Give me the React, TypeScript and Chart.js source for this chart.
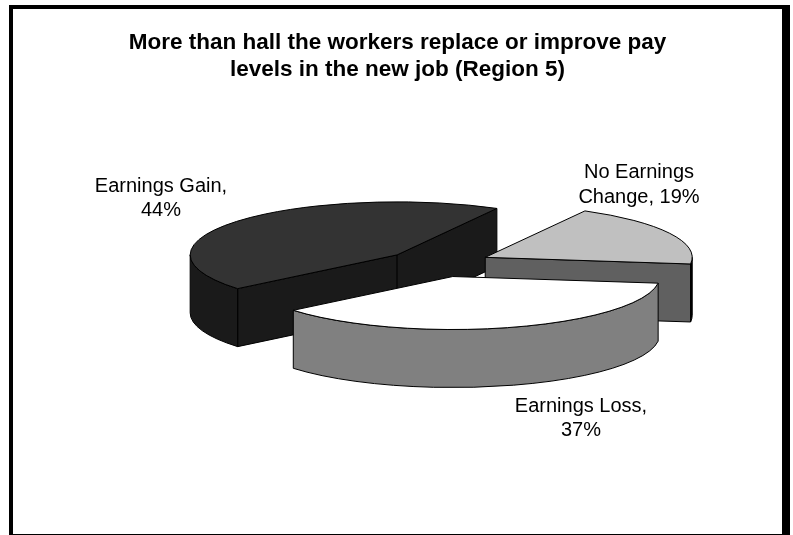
import React, { useEffect, useRef } from "react";
import { Chart, registerables } from "chart.js";

Chart.register(...registerables);

const categories = ["Earnings Gain", "No Earnings Change", "Earnings Loss"];
const shares = [44, 19, 37];
const titleLines = [
  "More than hall the workers replace or improve pay",
  "levels in the new job (Region 5)",
];
const labelLines = [
  ["Earnings Gain,", "44%"],
  ["No Earnings", "Change, 19%"],
  ["Earnings Loss,", "37%"],
];
const topColors = ["#333333", "#c0c0c0", "#ffffff"];
const faceColors = ["#1a1a1a", "#606060", "#808080"];
const rimColors = ["#1a1a1a", "#000000", "#808080"];

const FONT = "'Liberation Sans', Arial, sans-serif";
const SQUASH = 0.256;
const DEPTH = 58;
const EXPLODE = 53;
const RADIUS = 207;
const TITLE_CENTER = 397.5;
const TITLE_SIZE = 22.5;
const labelAnchors = [
  { x: 161, y: 191.5 },
  { x: 639, y: 178 },
  { x: 581, y: 411.5 },
];

const pie3d = {
  id: "pie3d",
  afterLayout(chart: any) {
    chart.titleBlock.left = 0;
    chart.titleBlock.right = TITLE_CENTER * 2;
  },
  beforeDatasetDraw(chart: any, args: any) {
    const ctx: CanvasRenderingContext2D = chart.ctx;
    const arcs = chart.getDatasetMeta(args.index).data;
    arcs.forEach((arc: any, i: number) => {
      const { x, y, startAngle: a0, endAngle: a1, outerRadius: r } = arc;
      const mid = (a0 + a1) / 2;
      const cx = x + Math.cos(mid) * EXPLODE;
      const cy = y + Math.sin(mid) * EXPLODE * SQUASH;
      const px = (a: number) => cx + Math.cos(a) * r;
      const py = (a: number) => cy + Math.sin(a) * r * SQUASH;
      ctx.save();
      ctx.lineWidth = 1;
      ctx.strokeStyle = "#000000";
      ctx.lineJoin = "round";

      // cut faces that turn toward the viewer
      const face = (a: number) => {
        ctx.beginPath();
        ctx.moveTo(cx, cy);
        ctx.lineTo(px(a), py(a));
        ctx.lineTo(px(a), py(a) + DEPTH);
        ctx.lineTo(cx, cy + DEPTH);
        ctx.closePath();
        ctx.fillStyle = faceColors[i];
        ctx.fill();
        ctx.stroke();
      };
      if (Math.cos(a0) < 0) face(a0);
      if (Math.cos(a1) > 0) face(a1);

      // outer rim: the part of the slice on the front half of the ellipse
      for (let n = 0; n < 3; n++) {
        const lo = Math.max(a0, n * 2 * Math.PI);
        const hi = Math.min(a1, n * 2 * Math.PI + Math.PI);
        if (hi <= lo) continue;
        ctx.beginPath();
        ctx.ellipse(cx, cy, r, r * SQUASH, 0, lo, hi);
        ctx.lineTo(px(hi), py(hi) + DEPTH);
        ctx.ellipse(cx, cy + DEPTH, r, r * SQUASH, 0, hi, lo, true);
        ctx.closePath();
        ctx.fillStyle = rimColors[i];
        ctx.fill();
        ctx.stroke();
      }

      // the top of the slice is the library's own arc, flattened
      ctx.save();
      ctx.translate(cx, cy);
      ctx.scale(1, SQUASH);
      ctx.translate(-x, -y);
      arc.draw(ctx);
      ctx.restore();

      ctx.beginPath();
      ctx.moveTo(cx, cy);
      ctx.ellipse(cx, cy, r, r * SQUASH, 0, a0, a1);
      ctx.closePath();
      ctx.stroke();
      ctx.restore();
    });
    return false;
  },
  afterDraw(chart: any) {
    const ctx: CanvasRenderingContext2D = chart.ctx;
    ctx.save();
    ctx.fillStyle = "#000000";
    ctx.font = `20px ${FONT}`;
    ctx.textAlign = "center";
    ctx.textBaseline = "alphabetic";
    labelLines.forEach((lines, i) => {
      lines.forEach((t, j) => {
        ctx.fillText(t, labelAnchors[i].x, labelAnchors[i].y + j * 24.5);
      });
    });
    ctx.restore();
  },
};

export default function App() {
  const ref = useRef<HTMLCanvasElement>(null);
  useEffect(() => {
    const chart = new Chart(ref.current!, {
      type: "pie",
      data: {
        labels: categories,
        datasets: [
          {
            data: shares,
            backgroundColor: topColors,
            borderWidth: 0,
          },
        ],
      },
      options: {
        responsive: false,
        animation: false,
        rotation: 230.4,
        radius: RADIUS,
        layout: { padding: { left: 83, right: 0, top: 0, bottom: 91 } },
        plugins: {
          legend: { display: false },
          tooltip: { enabled: false },
          title: {
            display: true,
            text: titleLines,
            color: "#000000",
            font: { family: FONT, size: TITLE_SIZE, weight: "bold", lineHeight: 27 / TITLE_SIZE },
            padding: { top: 29, bottom: 0 },
          },
        },
      },
      plugins: [pie3d],
    } as any);
    return () => chart.destroy();
  }, []);
  return (
    <div style={{ position: "fixed", left: 0, top: 0, width: 793, height: 535, background: "#fff", overflow: "hidden" }}>
      <div
        style={{
          position: "absolute",
          left: 9,
          top: 5,
          width: 769,
          height: 525,
          borderStyle: "solid",
          borderColor: "#000",
          borderWidth: "4px 8px 1px 4px",
        }}
      />
      <canvas ref={ref} width={793} height={535} style={{ position: "absolute", left: 0, top: 0 }} />
    </div>
  );
}
